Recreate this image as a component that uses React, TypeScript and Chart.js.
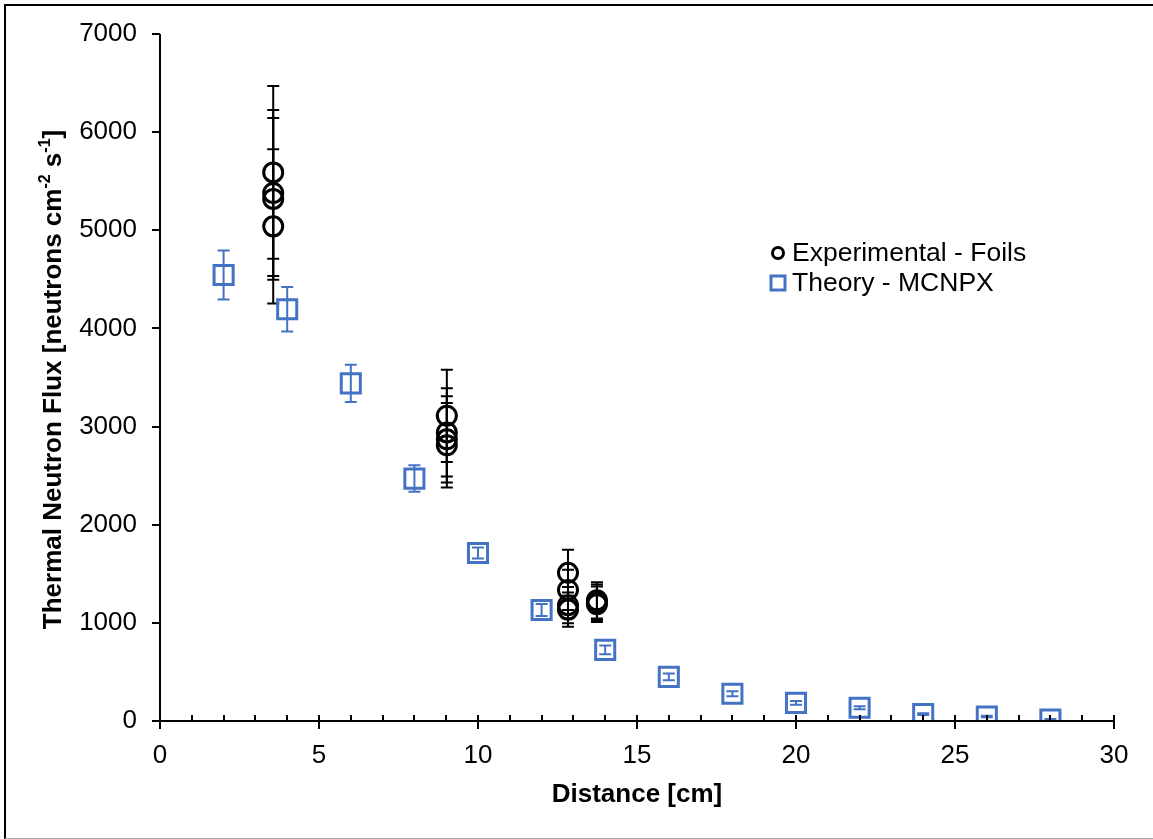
import React, { useEffect, useRef } from 'react';
import { Chart, registerables } from 'chart.js';

Chart.register(...registerables);

// ---------- data ----------
const theoryX = [2, 4, 6, 8, 10, 12, 14, 16, 18, 20, 22, 24, 26, 28];
const theoryY = [4545, 4195, 3440, 2470, 1712, 1131, 725, 450, 278, 185, 135, 70, 45, 15];
const theoryErr = [250, 226, 190, 135, 55, 60, 45, 35, 25, 20, 15, 10, 8, 5];

const expX = [3.56, 3.56, 3.56, 3.56, 9.02, 9.02, 9.02, 9.02, 12.83, 12.83, 12.83, 12.83, 13.74, 13.74, 13.74];
const expY = [5590, 5380, 5320, 5040, 3110, 2940, 2870, 2810, 1510, 1335, 1180, 1135, 1230, 1210, 1190];
const expErr = [880, 845, 825, 785, 470, 450, 440, 430, 235, 205, 185, 175, 185, 180, 180];

const xMajorTicks = [0, 5, 10, 15, 20, 25, 30];
const xMinorTicks = Array.from({ length: 31 }, (_, i) => i);
const yTicks = [0, 1000, 2000, 3000, 4000, 5000, 6000, 7000];

const legendLabels = ['Experimental - Foils', 'Theory - MCNPX'];
const xTitle = 'Distance [cm]';
const yTitleParts: [string, boolean][] = [
  ['Thermal Neutron Flux [neutrons cm', false],
  ['-2', true],
  [' s', false],
  ['-1', true],
  [']', false],
];

const BLUE = '#4472C4';
const FONT = 'Arial, "Liberation Sans", sans-serif';

const errorBarPlugin = {
  id: 'errorBars',
  beforeDatasetsDraw(chart: any) {
    const { ctx, scales } = chart;
    const xs = scales.x;
    const ys = scales.y;
    const draw = (X: number[], Y: number[], E: number[], color: string, w: number) => {
      ctx.save();
      ctx.strokeStyle = color;
      ctx.lineWidth = w;
      for (let i = 0; i < X.length; i++) {
        const px = xs.getPixelForValue(X[i]);
        const pt = ys.getPixelForValue(Y[i] + E[i]);
        const pb = ys.getPixelForValue(Y[i] - E[i]);
        ctx.beginPath();
        ctx.moveTo(px, pt);
        ctx.lineTo(px, pb);
        ctx.moveTo(px - 6, pt);
        ctx.lineTo(px + 6, pt);
        ctx.moveTo(px - 6, pb);
        ctx.lineTo(px + 6, pb);
        ctx.stroke();
      }
      ctx.restore();
    };
    draw(theoryX, theoryY, theoryErr, BLUE, 2);
    draw(expX, expY, expErr, '#000', 2);
  },
};

const axesPlugin = {
  id: 'customAxes',
  afterDraw(chart: any) {
    const { ctx, chartArea, scales } = chart;
    const { left, right, top, bottom } = chartArea;
    const xs = scales.x;
    const ys = scales.y;
    ctx.save();
    ctx.strokeStyle = '#000';
    ctx.lineWidth = 2;
    ctx.beginPath();
    // axis lines
    ctx.moveTo(left, top);
    ctx.lineTo(left, bottom);
    ctx.moveTo(left, bottom);
    ctx.lineTo(right, bottom);
    // y ticks
    for (const v of yTicks) {
      const py = Math.round(ys.getPixelForValue(v));
      ctx.moveTo(left - 8, py);
      ctx.lineTo(left, py);
    }
    // x ticks
    for (const v of xMinorTicks) {
      const px = Math.round(xs.getPixelForValue(v));
      const major = xMajorTicks.includes(v);
      ctx.moveTo(px, bottom - 6);
      ctx.lineTo(px, major ? bottom + 8 : bottom);
    }
    ctx.stroke();

    // y-axis title with superscripts
    const mainFont = `bold 26px ${FONT}`;
    const supFont = `bold 16px ${FONT}`;
    ctx.fillStyle = '#000';
    ctx.textBaseline = 'middle';
    ctx.textAlign = 'left';
    let total = 0;
    const widths = yTitleParts.map(([t, sup]) => {
      ctx.font = sup ? supFont : mainFont;
      const w = ctx.measureText(t).width;
      total += w;
      return w;
    });
    ctx.translate(54, (top + bottom) / 2 + 2);
    ctx.rotate(-Math.PI / 2);
    let cx = -total / 2;
    yTitleParts.forEach(([t, sup], i) => {
      ctx.font = sup ? supFont : mainFont;
      ctx.fillText(t, cx, sup ? -8 : 0);
      cx += widths[i];
    });
    ctx.restore();

    // legend
    ctx.save();
    ctx.font = `26.5px ${FONT}`;
    ctx.fillStyle = '#000';
    ctx.textBaseline = 'middle';
    ctx.textAlign = 'left';
    ctx.lineWidth = 3;
    // circle
    ctx.strokeStyle = '#000';
    ctx.beginPath();
    ctx.arc(778, 253, 5.5, 0, Math.PI * 2);
    ctx.stroke();
    ctx.fillText(legendLabels[0], 792, 254);
    // square
    ctx.strokeStyle = BLUE;
    ctx.strokeRect(778 - 7, 283 - 7, 14, 14);
    ctx.fillText(legendLabels[1], 792, 284);
    ctx.restore();
  },
};

export default function App() {
  const canvasRef = useRef<HTMLCanvasElement | null>(null);

  useEffect(() => {
    if (!canvasRef.current) return;
    const chart = new Chart(canvasRef.current, {
      type: 'scatter',
      data: {
        datasets: [
          {
            label: legendLabels[1],
            data: theoryX.map((x, i) => ({ x, y: theoryY[i] })),
            pointStyle: 'rect',
            pointRadius: 13.5,
            borderWidth: 3,
            borderColor: BLUE,
            backgroundColor: 'rgba(0,0,0,0)',
            showLine: false,
          },
          {
            label: legendLabels[0],
            data: expX.map((x, i) => ({ x, y: expY[i] })),
            pointStyle: 'circle',
            pointRadius: 9.5,
            borderWidth: 3,
            borderColor: '#000',
            backgroundColor: 'rgba(0,0,0,0)',
            showLine: false,
          },
        ],
      },
      options: {
        responsive: false,
        animation: false,
        devicePixelRatio: 1,
        events: [],
        layout: { padding: { top: 34, right: 39, bottom: 0, left: 0 } },
        plugins: {
          legend: { display: false },
          tooltip: { enabled: false },
        },
        scales: {
          x: {
            type: 'linear',
            min: 0,
            max: 30,
            afterFit: (s: any) => {
              s.height = 118;
              s.paddingLeft = 0;
              s.paddingRight = 0;
            },
            afterBuildTicks: (s: any) => {
              s.ticks = xMajorTicks.map((v) => ({ value: v }));
            },
            grid: { display: false, drawTicks: false },
            border: { display: false },
            ticks: {
              padding: 19,
              color: '#000',
              font: { family: FONT, size: 26 },
            },
            title: {
              display: true,
              text: xTitle,
              color: '#000',
              font: { family: FONT, size: 26, weight: 'bold' },
              padding: { top: 0, bottom: 29 },
            },
          },
          y: {
            type: 'linear',
            min: 0,
            max: 7000,
            afterFit: (s: any) => {
              s.width = 160;
              s.paddingTop = 0;
              s.paddingBottom = 0;
            },
            afterBuildTicks: (s: any) => {
              s.ticks = yTicks.map((v) => ({ value: v }));
            },
            grid: { display: false, drawTicks: false },
            border: { display: false },
            ticks: {
              padding: 23,
              color: '#000',
              font: { family: FONT, size: 26 },
              callback: (v: any) => String(v),
            },
          },
        },
      },
      plugins: [errorBarPlugin, axesPlugin],
    });
    return () => chart.destroy();
  }, []);

  return (
    <div style={{ position: 'absolute', left: 0, top: 0, width: 1153, height: 839, background: '#fff' }}>
      <div
        style={{
          position: 'absolute',
          left: 4,
          top: 4,
          width: 1147,
          height: 832,
          borderLeft: '2px solid #000',
          borderTop: '2px solid #000',
          borderBottom: '1px solid #aaa',
        }}
      />
      <canvas ref={canvasRef} width={1153} height={839} style={{ position: 'absolute', left: 0, top: 0 }} />
    </div>
  );
}
